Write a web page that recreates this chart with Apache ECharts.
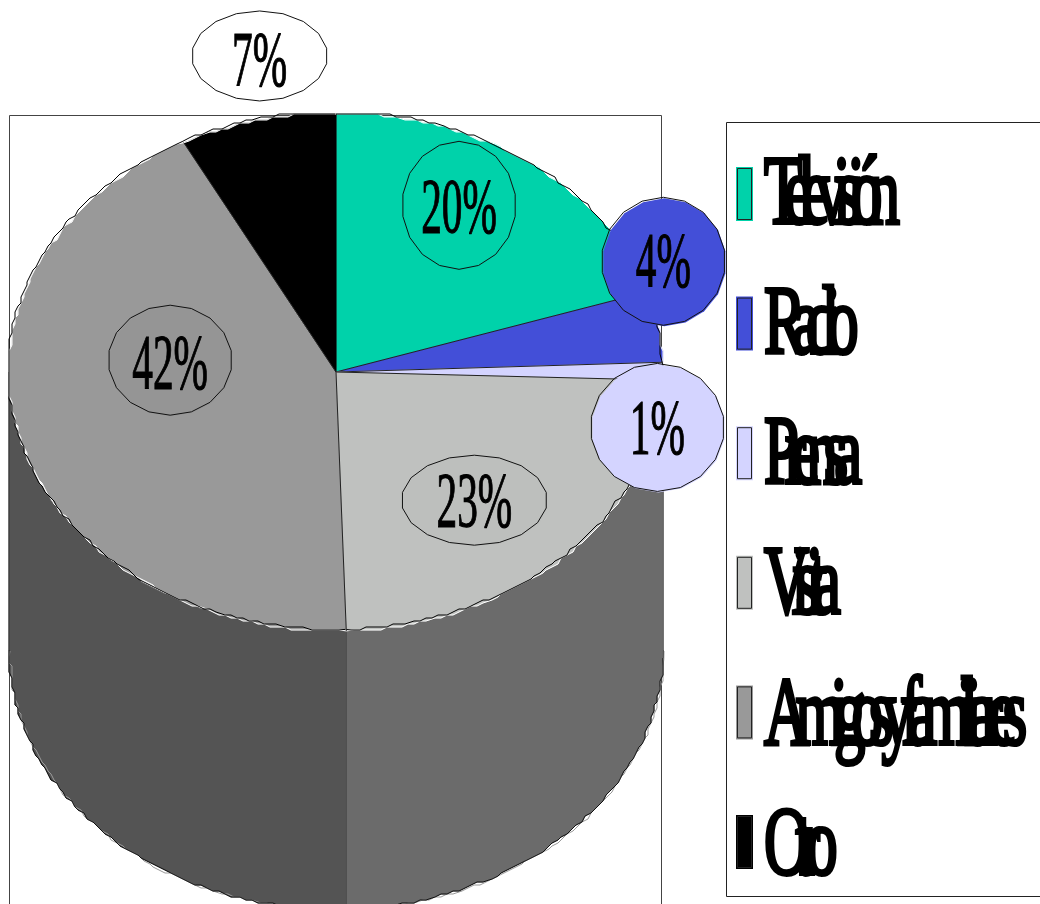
<!DOCTYPE html>
<html>
<head>
<meta charset="utf-8">
<style>
html,body{margin:0;padding:0;background:#fff}
#chart{width:1040px;height:904px}
#chart text[style*="98px"]{letter-spacing:-21.6px}
</style>
<script src="https://cdn.jsdelivr.net/npm/echarts@6/dist/echarts.min.js"></script>
</head>
<body>
<div id="chart"></div>
<script>
const categories = ['Televisión', 'Radio', 'Prensa', 'Visita', 'Amigos y familiares', 'Otro'];
const values = [20, 4.4, 1.1, 24, 42.8, 7.7];
const labelTexts = ['20%', '4%', '1%', '23%', '42%', '7%'];
const colors = ['#00d2aa', '#434fd8', '#d4d4ff', '#bfc1bf', '#999999', '#000000'];
const wallColors = ['#6b6b6b', '#6b6b6b', '#6b6b6b', '#6b6b6b', '#545454', '#545454'];
const bubbleFills = ['#00d2aa', '#434fd8', '#d4d4ff', '#bdbfbd', '#959595', '#ffffff'];
const bubbleOffsets = [[-11.5, -20], [102, -79], [92.5, 56], [-23.5, 0], [55.5, -58], [-21.5, -140]];
const bubbleRadii = [[57, 64], [62, 64], [67, 64], [73, 45], [62, 55], [68, 45]];
const labelShiftY = [0, -2, -1, 0, 2, 3];

const CX = 336, CY = 372, RX = 327, RY = 259, DEPTH = 278, STEP = 1.2, GRID = 3, TOP_LIMIT = 114;
const total = values.reduce((a, b) => a + b, 0);
const cum = [0];
values.forEach((v, i) => cum.push(cum[i] + v));
const ang = p => p / total * 360;
const snap = v => Math.round(v / GRID) * GRID;
function raw(a, dy, ox, oy) {
  const r = a * Math.PI / 180;
  const y = CY - RY * Math.cos(r) + (dy || 0) + (oy || 0);
  return [CX + RX * Math.sin(r) + (ox || 0), Math.max(y, TOP_LIMIT)];
}
function rim(a0, a1, dy, ox, oy) {
  const out = [raw(a0, dy, ox, oy)];
  const n = Math.max(1, Math.round((a1 - a0) / STEP));
  for (let k = 1; k < n; k++) {
    const p = raw(a0 + (a1 - a0) * k / n, dy, ox, oy);
    out.push([snap(p[0]), Math.max(snap(p[1]), TOP_LIMIT)]);
  }
  out.push(raw(a1, dy, ox, oy));
  return out;
}
const seriesData = categories.map((name, i) => ({ name: name, value: values[i] }));

function renderWall(params) {
  const i = params.dataIndex;
  const a0 = Math.max(ang(cum[i]), 90), a1 = Math.min(ang(cum[i + 1]), 270);
  if (a1 <= a0) return { type: 'group', children: [] };
  const top = rim(a0, a1, 0), bottom = rim(a0, a1, DEPTH).reverse();
  return { type: 'group', children: [
    { type: 'polygon', shape: { points: top.concat(bottom) }, style: { fill: wallColors[i], stroke: wallColors[i], lineWidth: 1 } },
    { type: 'polyline', shape: { points: rim(a0, a1, DEPTH, 1, 1) }, style: { fill: null, stroke: '#999', lineWidth: 1 } },
    { type: 'polyline', shape: { points: rim(a0, a1, DEPTH) }, style: { fill: null, stroke: '#111', lineWidth: 1 } },
    { type: 'polyline', shape: { points: [raw(a1), raw(a1, DEPTH)] }, style: { fill: null, stroke: '#333', lineWidth: 1 } }
  ] };
}
function renderTop(params) {
  const i = params.dataIndex;
  const a0 = ang(cum[i]), a1 = ang(cum[i + 1]);
  const arc = rim(a0, a1, 0);
  return { type: 'group', children: [
    { type: 'polygon', shape: { points: [[CX, CY]].concat(arc) }, style: { fill: colors[i], stroke: colors[i], lineWidth: 0.5 } },
    { type: 'polyline', shape: { points: arc }, style: { fill: null, stroke: '#fff', lineWidth: 1 } },
    { type: 'polyline', shape: { points: rim(a0, a1, 0, -1, -1.5) }, style: { fill: null, stroke: '#000', lineWidth: 1 } },
    { type: 'polyline', shape: { points: [[CX, CY], raw(a0)] }, style: { fill: null, stroke: '#222', lineWidth: 1 } }
  ] };
}
function renderBubble(params) {
  const i = params.dataIndex;
  const mid = ang((cum[i] + cum[i + 1]) / 2), r = mid * Math.PI / 180;
  const bx = CX + 0.7 * RX * Math.sin(r) + bubbleOffsets[i][0];
  const by = CY - 0.7 * RY * Math.cos(r) + bubbleOffsets[i][1];
  const pts = [];
  for (let k = 0; k < 18; k++) {
    const t = k / 18 * Math.PI * 2;
    pts.push([bx + bubbleRadii[i][0] * Math.sin(t), by - bubbleRadii[i][1] * Math.cos(t)]);
  }
  return { type: 'group', children: [
    { type: 'polygon', x: 1, y: 1, shape: { points: pts }, style: { fill: bubbleFills[i] } },
    { type: 'polygon', shape: { points: pts }, style: { fill: null, stroke: '#111', lineWidth: 1 } },
    { type: 'text', x: bx, y: by + labelShiftY[i], scaleX: 0.53, style: { text: labelTexts[i], fontSize: 78, fontFamily: 'Liberation Serif', fill: '#000', stroke: '#000', lineWidth: 1.2, textAlign: 'center', textVerticalAlign: 'middle' } }
  ] };
}
function renderLegend(params) {
  const i = params.dataIndex;
  const y = 167 + i * 129.6, h = 54;
  return { type: 'group', children: [
    { type: 'rect', shape: { x: 736, y: y, width: 17, height: h }, style: { fill: colors[i] } },
    { type: 'rect', shape: { x: 737.5, y: y + 1.5, width: 14, height: h - 3 }, style: { fill: colors[i], stroke: '#222', lineWidth: 1 } },
    { type: 'text', x: 764, y: 190 + i * 130.2, scaleX: 0.64, style: { text: categories[i], fontSize: 98, fontFamily: 'Liberation Serif', fill: '#000', stroke: '#000', lineWidth: 4, textAlign: 'left', textVerticalAlign: 'middle' } }
  ] };
}
function customSeries(name, z, fn) {
  return { type: 'custom', name: name, coordinateSystem: 'none', silent: true, animation: false, z: z, data: seriesData, renderItem: fn };
}
const chart = echarts.init(document.getElementById('chart'), null, { renderer: 'svg', width: 1040, height: 904 });
chart.setOption({
  animation: false,
  backgroundColor: '#ffffff',
  graphic: [
    { type: 'rect', z: 0, silent: true, shape: { x: 9.5, y: 115.5, width: 652, height: 820 }, style: { fill: 'none', stroke: '#444', lineWidth: 1 } },
    { type: 'rect', z: 0, silent: true, shape: { x: 726.5, y: 122.5, width: 340, height: 774 }, style: { fill: 'none', stroke: '#222', lineWidth: 1 } }
  ],
  series: [
    customSeries('wall', 2, renderWall),
    customSeries('top', 3, renderTop),
    customSeries('labels', 4, renderBubble),
    customSeries('legend', 5, renderLegend)
  ]
});
</script>
</body>
</html>
